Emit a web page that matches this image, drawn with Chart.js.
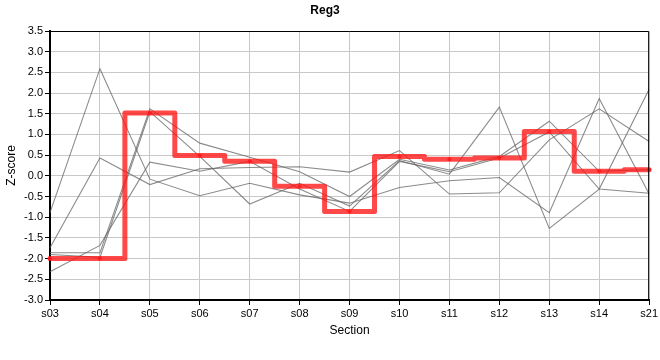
<!DOCTYPE html>
<html>
<head>
<meta charset="utf-8">
<script src="https://cdn.jsdelivr.net/npm/chart.js@4"></script>
<style>
  html, body { margin: 0; padding: 0; background: #fff; }
  #wrap { width: 660px; height: 360px; }
</style>
</head>
<body>
<div id="wrap"><canvas id="myChart" width="660" height="360"></canvas></div>
<script>
// categories and values
const sections = ['s03', 's04', 's05', 's06', 's07', 's08', 's09', 's10', 's11', 's12', 's13', 's14', 's21'];
const reg3 = [-2.0, -2.0, 1.52, 0.49, 0.35, -0.25, -0.86, 0.47, 0.40, 0.43, 1.07, 0.11, 0.15];
const other1 = [-0.89, 2.59, -0.08, -0.48, -0.18, -0.46, -0.66, -0.28, -0.12, -0.04, -0.89, 1.87, -0.44];
const other2 = [-1.74, 0.43, -0.21, 0.17, 0.20, 0.22, 0.09, 0.61, -0.44, -0.41, 0.87, 1.62, 0.83];
const other3 = [-1.86, -1.86, 1.62, 0.79, 0.45, 0.10, -0.50, 0.40, 0.14, 0.47, 1.32, 0.11, 0.15];
const other4 = [-1.90, -1.97, 1.55, 0.47, -0.68, -0.18, -0.73, 0.37, 0.04, 1.66, -1.27, -0.32, 2.09];
const other5 = [-2.32, -1.68, 0.33, 0.11, 0.35, -0.32, -0.86, 0.35, 0.10, 0.43, 1.06, -0.32, -0.42];
const yMin = -3.0, yMax = 3.5, yStep = 0.5;

const FONT = 'Liberation Sans, Arial, sans-serif';

function grayLine(data) {
    return {
        data: data,
        borderColor: 'rgba(100, 100, 100, 0.75)',
        borderWidth: 1.1,
        pointRadius: 0,
        tension: 0,
        order: 1
    };
}

// black frame on top and right of the plot
const frame = {
    id: 'frame',
    afterDraw(chart) {
        const { ctx, chartArea: a } = chart;
        ctx.save();
        ctx.strokeStyle = '#000';
        ctx.lineWidth = 1;
        ctx.beginPath();
        ctx.moveTo(a.left, a.top + 0.5);
        ctx.lineTo(a.right - 0.5, a.top + 0.5);
        ctx.lineTo(a.right - 0.5, a.bottom);
        ctx.stroke();
        ctx.restore();
    }
};

new Chart(document.getElementById('myChart'), {
    type: 'line',
    data: {
        labels: sections,
        datasets: [
            {
                data: reg3,
                stepped: 'middle',
                borderColor: 'rgba(255, 20, 20, 0.78)',
                backgroundColor: 'rgba(255, 20, 20, 0.78)',
                borderWidth: 5,
                borderJoinStyle: 'round',
                borderCapStyle: 'round',
                pointRadius: 2,
                pointBorderWidth: 0,
                order: 0
            },
            grayLine(other1),
            grayLine(other2),
            grayLine(other3),
            grayLine(other4),
            grayLine(other5)
        ]
    },
    options: {
        responsive: false,
        animation: false,
        events: [],
        layout: { padding: { left: 0, right: 10, top: 0, bottom: 0 } },
        plugins: {
            legend: { display: false },
            tooltip: { enabled: false },
            title: {
                display: true,
                text: 'Reg3',
                color: '#000',
                font: { family: FONT, size: 12, weight: 'bold' },
                padding: { top: 3, bottom: 13.6 }
            }
        },
        scales: {
            x: {
                type: 'category',
                offset: false,
                afterFit: (s) => { s.height = 60; },
                grid: { color: '#c8c8c8', tickLength: 5, tickColor: '#000', offset: false },
                border: { color: '#000', width: 2 },
                ticks: { color: '#000', font: { family: FONT, size: 11 }, padding: 2, maxRotation: 0, autoSkip: false },
                title: {
                    display: true,
                    text: 'Section',
                    color: '#000',
                    font: { family: FONT, size: 12 },
                    padding: { top: 0, bottom: 22 }
                }
            },
            y: {
                min: yMin,
                max: yMax,
                afterFit: (s) => { s.width = 50; },
                grid: { color: '#c8c8c8', tickLength: 5, tickColor: '#000' },
                border: { color: '#000', width: 2 },
                ticks: {
                    stepSize: yStep,
                    color: '#000',
                    font: { family: FONT, size: 11 },
                    padding: 2,
                    callback: (v) => Number(v).toFixed(1)
                },
                title: {
                    display: true,
                    text: 'Z-score',
                    color: '#000',
                    font: { family: FONT, size: 12 },
                    padding: { top: 4.8, bottom: 0 }
                }
            }
        }
    },
    plugins: [frame]
});
</script>
</body>
</html>
